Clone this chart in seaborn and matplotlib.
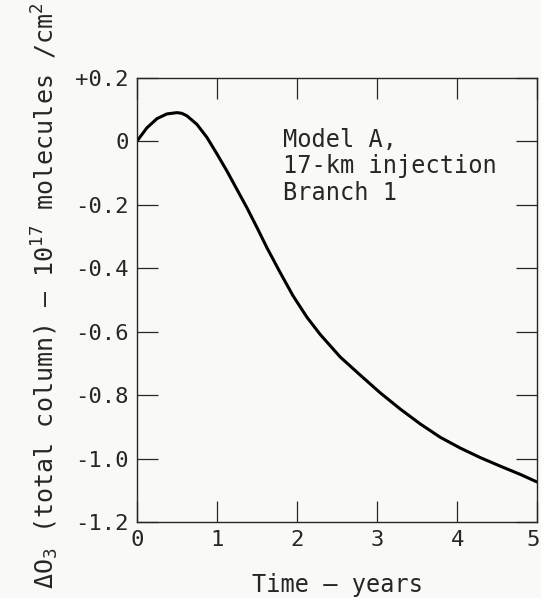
import matplotlib
matplotlib.use("Agg")
import matplotlib.pyplot as plt
import matplotlib.transforms as mtransforms
import seaborn as sns
import pandas as pd

sns.set_theme(style="ticks")
plt.rcParams["font.family"] = ["DejaVu Sans Mono", "DejaVu Sans"]
plt.rcParams["mathtext.fontset"] = "custom"
plt.rcParams["mathtext.rm"] = "DejaVu Sans Mono"
plt.rcParams["mathtext.it"] = "DejaVu Sans Mono"
plt.rcParams["mathtext.default"] = "rm"

# ozone column change (1e17 molecules/cm2)
years = [0.0, 0.125, 0.25, 0.375, 0.5, 0.56, 0.625, 0.75, 0.875, 1.0, 1.125, 1.25, 1.375,
         1.5, 1.625, 1.79, 1.95, 2.125, 2.29, 2.54, 2.79, 3.04, 3.29, 3.54, 3.79,
         4.04, 4.29, 4.54, 4.79, 5.0]
delta_o3 = [0.0, 0.042, 0.071, 0.086, 0.090, 0.088, 0.080, 0.053, 0.012, -0.040, -0.094, -0.152, -0.21,
            -0.272, -0.336, -0.414, -0.487, -0.555, -0.609, -0.680, -0.737, -0.793, -0.844, -0.891, -0.933,
            -0.967, -0.997, -1.024, -1.050, -1.074]

y_ticks = [0.2, 0.0, -0.2, -0.4, -0.6, -0.8, -1.0, -1.2]
y_tick_labels = ["+0.2", "0", "-0.2", "-0.4", "-0.6", "-0.8", "-1.0", "-1.2"]
x_ticks = [0, 1, 2, 3, 4, 5]

df = pd.DataFrame({"t": years, "d": delta_o3})
ink = "#262626"

fig = plt.figure(figsize=(5.41, 5.98), dpi=100, facecolor="#f9f9f7")
ax = fig.add_axes([0.253, 0.127, 0.74, 0.743])
ax.set_facecolor("#f9f9f7")

sns.lineplot(data=df, x="t", y="d", ax=ax, color="black", linewidth=2.2, sort=False,
             solid_joinstyle="round", solid_capstyle="round")

ax.set_xlim(0, 5)
ax.set_ylim(-1.2, 0.2)
ax.set_xticks(x_ticks)
ax.set_xticklabels([str(v) for v in x_ticks])
ax.set_yticks(y_ticks)
ax.set_yticklabels(y_tick_labels)
ax.tick_params(direction="in", length=15, width=0.9, color=ink,
               top=True, right=True, labelsize=16, labelcolor=ink, pad=6)
for s in ax.spines.values():
    s.set_linewidth(1.0)
    s.set_color(ink)

# the "5" sits right at the page edge; nudge it in a few pixels
last = ax.get_xticklabels()[-1]
last.set_transform(last.get_transform() + mtransforms.ScaledTranslation(-3 / 72, 0, fig.dpi_scale_trans))

ax.set_xlabel("Time — years", fontsize=17, color=ink)
ax.xaxis.set_label_coords(0.5, -0.115)
ax.set_ylabel("ΔO$_3$ (total column) — 10$^{17}$ molecules /cm$^2$", fontsize=18, color=ink)
ax.yaxis.set_label_coords(-0.19, 0.51)

ax.text(0.365, 0.888, "Model A,\n17-km injection\nBranch 1", transform=ax.transAxes,
        fontsize=17, color=ink, va="top", ha="left", linespacing=1.15)

fig.savefig("out.png", dpi=100, facecolor=fig.get_facecolor())
